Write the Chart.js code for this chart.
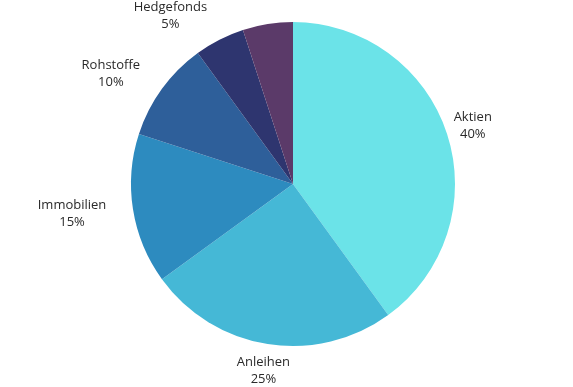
<!DOCTYPE html>
<html>
<head>
<meta charset="utf-8">
<script src="https://cdn.jsdelivr.net/npm/chart.js@4"></script>
<style>
  html, body { margin: 0; padding: 0; background: #fff; }
  canvas { display: block; }
</style>
</head>
<body>
<canvas id="pieChart" width="573" height="387"></canvas>
<script>
// Daten
const categories = ["Aktien", "Anleihen", "Immobilien", "Rohstoffe", "Hedgefonds", ""];
const shares = [40, 25, 15, 10, 5, 5];
const sliceColors = ["#6be3e8", "#45b8d6", "#2d8bbf", "#2e5f9a", "#2e356f", "#5b3a69"];

// Etiketten ausserhalb der Segmente
const outsideLabels = {
    id: "outsideLabels",
    afterDatasetsDraw(chart) {
        const ctx = chart.ctx;
        const arcs = chart.getDatasetMeta(0).data;
        ctx.save();
        ctx.font = "13px 'Open Sans'";
        ctx.fillStyle = "#2a2a2a";
        ctx.textAlign = "center";
        ctx.textBaseline = "middle";
        arcs.forEach((arc, i) => {
            if (!categories[i]) return;
            const mid = (arc.startAngle + arc.endAngle) / 2;
            const dist = arc.outerRadius + 27;
            let x = arc.x + Math.cos(mid) * dist;
            const y = arc.y + Math.sin(mid) * dist;
            const line1 = categories[i];
            const line2 = shares[i] + "%";
            // linke Seite: rechter Rand am Ankerpunkt
            if (Math.cos(mid) < -0.3) {
                const w = Math.max(ctx.measureText(line1).width, ctx.measureText(line2).width);
                x -= w / 2;
            }
            ctx.fillText(line1, x, y - 8);
            ctx.fillText(line2, x, y + 9);
        });
        ctx.restore();
    }
};

new Chart(document.getElementById("pieChart").getContext("2d"), {
    type: "pie",
    data: {
        labels: categories,
        datasets: [{
            data: shares,
            backgroundColor: sliceColors,
            borderWidth: 0
        }]
    },
    options: {
        responsive: false,
        animation: false,
        layout: { padding: { left: 131, right: 118, top: 22, bottom: 41 } },
        plugins: {
            legend: { display: false },
            tooltip: { enabled: false }
        }
    },
    plugins: [outsideLabels]
});
</script>
</body>
</html>
